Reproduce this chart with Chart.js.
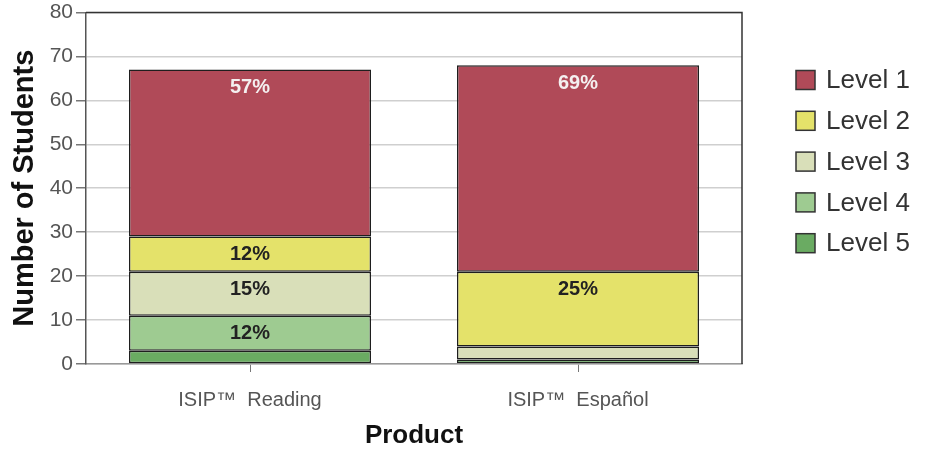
<!DOCTYPE html>
<html>
<head>
<meta charset="utf-8">
<script src="https://cdn.jsdelivr.net/npm/chart.js@4.4.1/dist/chart.umd.min.js"></script>
<style>
  html, body { margin: 0; padding: 0; background: #fff; }
  #wrap { width: 925px; height: 451px; }
</style>
</head>
<body>
<div id="wrap"><canvas id="chart"></canvas></div>
<script>
const products = ['ISIP\u2122  Reading', 'ISIP\u2122  Espa\u00f1ol'];
const levelNames = ['Level 1', 'Level 2', 'Level 3', 'Level 4', 'Level 5'];
const level1 = [38, 47];
const level2 = [8, 17];
const level3 = [10, 3];
const level4 = [8, 0];
const level5 = [3, 1];
const yTicks = [0, 10, 20, 30, 40, 50, 60, 70, 80];

const colors = ['#b04a58', '#e4e26a', '#d9dfb9', '#9ecb91', '#6aab62'];
const FONT = '"Liberation Sans", Arial, sans-serif';

const series = [level1, level2, level3, level4, level5];
const totals = products.map((_, i) => series.reduce((s, arr) => s + arr[i], 0));

// stack bottom -> top: level 5 first
const datasets = series.map((vals, k) => ({
  label: levelNames[k],
  data: vals,
  backgroundColor: colors[k],
  borderColor: '#1e1e1e',
  borderWidth: 1.5,
  borderSkipped: false
})).reverse();

// percentage labels, drawn inside segments near the top edge
const pctLabels = {
  id: 'pctLabels',
  afterDatasetsDraw(chart) {
    const ctx = chart.ctx;
    ctx.save();
    ctx.font = 'bold 20px ' + FONT;
    ctx.textAlign = 'center';
    ctx.textBaseline = 'middle';
    chart.data.datasets.forEach((ds, di) => {
      const meta = chart.getDatasetMeta(di);
      meta.data.forEach((bar, i) => {
        const pct = Math.round(ds.data[i] / totals[i] * 100);
        if (pct < 10) return;
        ctx.fillStyle = ds.label === 'Level 1' ? '#f4f0f0' : '#222';
        ctx.fillText(pct + '%', bar.x, bar.y + 18);
      });
    });
    ctx.restore();
  }
};

// dark frame on top and right of the plot
const frame = {
  id: 'frame',
  afterDraw(chart) {
    const { ctx, chartArea: a } = chart;
    ctx.save();
    ctx.strokeStyle = '#333';
    ctx.lineWidth = 1.5;
    ctx.beginPath();
    ctx.moveTo(a.left, a.top);
    ctx.lineTo(a.right, a.top);
    ctx.lineTo(a.right, a.bottom);
    ctx.stroke();
    ctx.restore();
  }
};

// legend on the right, level 1 first
const sideLegend = {
  id: 'sideLegend',
  afterDraw(chart) {
    const ctx = chart.ctx;
    ctx.save();
    ctx.font = '26px ' + FONT;
    ctx.textBaseline = 'middle';
    levelNames.forEach((name, k) => {
      const y = 80 + k * 40.8;
      ctx.fillStyle = colors[k];
      ctx.fillRect(796, y - 9.5, 19, 19);
      ctx.strokeStyle = '#333';
      ctx.lineWidth = 1.5;
      ctx.strokeRect(796, y - 9.5, 19, 19);
      ctx.fillStyle = '#333';
      ctx.fillText(name, 826, y + 1);
    });
    ctx.restore();
  }
};

new Chart(document.getElementById('chart'), {
  type: 'bar',
  data: { labels: products, datasets },
  options: {
    responsive: true,
    maintainAspectRatio: false,
    animation: false,
    layout: { padding: { top: 0, right: 183, left: 0, bottom: 0 } },
    datasets: { bar: { categoryPercentage: 1, barPercentage: 0.738 } },
    plugins: { legend: { display: false }, tooltip: { enabled: false } },
    scales: {
      x: {
        stacked: true,
        grid: { offset: false, drawOnChartArea: false, tickLength: 8, color: '#777' },
        border: { color: '#999', width: 1.5 },
        ticks: { color: '#555', font: { family: FONT, size: 20 }, padding: 16 },
        title: { display: true, text: 'Product', color: '#111', font: { family: FONT, size: 26, weight: 'bold' }, padding: { top: 0, bottom: 0 } },
        afterFit(scale) { scale.height = 87; }
      },
      y: {
        stacked: true,
        min: yTicks[0],
        max: yTicks[yTicks.length - 1],
        afterBuildTicks(scale) { scale.ticks = yTicks.map(v => ({ value: v })); },
        grid: { color: '#cfcfcf', tickLength: 10, tickColor: '#777', lineWidth: 1.5 },
        border: { color: '#555', width: 1.5 },
        ticks: { color: '#555', font: { family: FONT, size: 21, lineHeight: 0.9 }, padding: 3 },
        title: { display: true, text: 'Number of Students', color: '#111', font: { family: FONT, size: 29, weight: 'bold' }, padding: { top: 8, bottom: 4 } },
        afterFit(scale) { scale.width = 86; }
      }
    }
  },
  plugins: [pctLabels, frame, sideLegend]
});
</script>
</body>
</html>
